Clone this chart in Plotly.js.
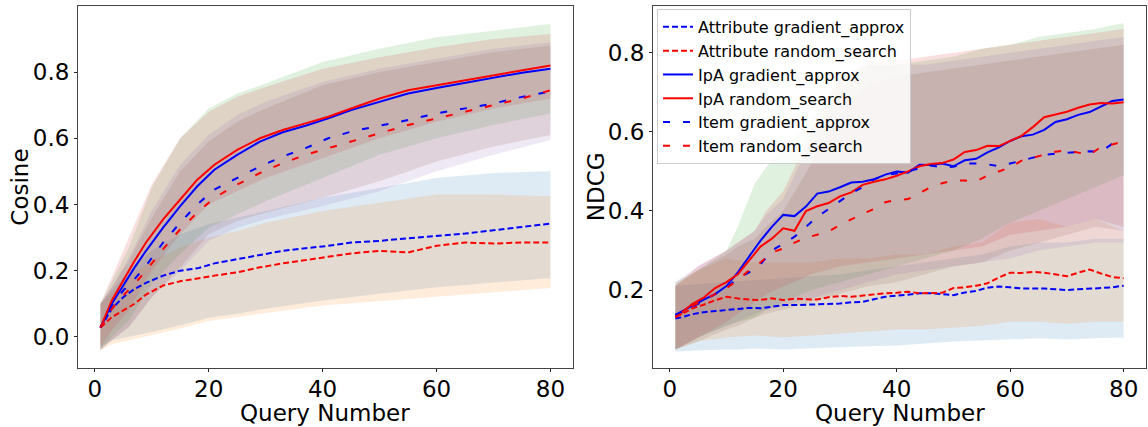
<!DOCTYPE html>
<html><head><meta charset="utf-8">
<script src="https://cdn.plot.ly/plotly-3.0.1.min.js"></script>
<style>html,body{margin:0;padding:0;background:#fff}</style>
</head><body>
<div id="chart" style="width:1148px;height:427px"></div>
<script>
// ---------- series ----------
const seriesNames = ["Attribute gradient_approx","Attribute random_search","IpA gradient_approx","IpA random_search","Item gradient_approx","Item random_search"];
const xTitle = "Query Number";
const yTitles = ["Cosine", "NDCG"];

// ---------- Cosine (left) ----------
const cosX = [1,3,5,7,9,12,15,18,21,25,29,33,37,41,45,50,55,60,65,70,75,80];
const cosAttrGrad = [0.028,0.085,0.12,0.145,0.163,0.185,0.2,0.207,0.222,0.235,0.248,0.26,0.268,0.275,0.285,0.29,0.298,0.305,0.312,0.322,0.333,0.342];
const cosAttrRand = [0.028,0.06,0.08,0.1,0.128,0.155,0.168,0.177,0.185,0.195,0.21,0.222,0.232,0.242,0.252,0.26,0.255,0.275,0.285,0.282,0.285,0.285];
const cosIpaGrad  = [0.028,0.1,0.155,0.21,0.26,0.33,0.395,0.455,0.505,0.55,0.59,0.618,0.638,0.66,0.685,0.71,0.735,0.752,0.768,0.783,0.798,0.81];
const cosIpaRand  = [0.028,0.11,0.17,0.23,0.285,0.355,0.415,0.475,0.52,0.565,0.6,0.625,0.645,0.665,0.69,0.72,0.745,0.76,0.775,0.79,0.805,0.82];
const cosItemGrad = [0.028,0.095,0.14,0.175,0.215,0.285,0.345,0.4,0.445,0.48,0.515,0.545,0.57,0.6,0.62,0.638,0.655,0.675,0.69,0.705,0.725,0.741];
const cosItemRand = [0.028,0.085,0.125,0.16,0.2,0.265,0.325,0.375,0.42,0.46,0.495,0.525,0.55,0.57,0.59,0.615,0.64,0.66,0.68,0.7,0.72,0.745];

const cosBandX = [1,3,6,10,15,20,25,30,40,50,60,70,80];
const cosAttrGradLo = [-0.03,-0.01,0.0,0.015,0.035,0.058,0.07,0.085,0.11,0.13,0.15,0.165,0.178];
const cosAttrGradHi = [0.1,0.14,0.2,0.26,0.31,0.34,0.36,0.38,0.42,0.45,0.48,0.495,0.5];
const cosAttrRandLo = [-0.04,-0.022,-0.01,0.005,0.025,0.048,0.06,0.072,0.095,0.11,0.122,0.135,0.148];
const cosAttrRandHi = [0.1,0.13,0.18,0.23,0.27,0.3,0.32,0.345,0.38,0.405,0.43,0.43,0.425];
const cosIpaGradLo  = [-0.04,0.0,0.05,0.16,0.25,0.33,0.37,0.41,0.48,0.55,0.6,0.64,0.675];
const cosIpaGradHi  = [0.1,0.17,0.27,0.45,0.6,0.69,0.735,0.765,0.83,0.87,0.905,0.925,0.945];
const cosIpaRandLo  = [-0.03,0.02,0.08,0.2,0.31,0.4,0.44,0.48,0.54,0.6,0.65,0.69,0.72];
const cosIpaRandHi  = [0.1,0.18,0.3,0.46,0.6,0.68,0.725,0.755,0.81,0.845,0.875,0.9,0.915];
const cosItemGradLo = [-0.04,-0.01,0.03,0.12,0.2,0.29,0.33,0.355,0.395,0.44,0.5,0.55,0.595];
const cosItemGradHi = [0.1,0.15,0.24,0.38,0.52,0.61,0.67,0.71,0.77,0.81,0.84,0.87,0.89];
const cosItemRandLo = [-0.04,-0.01,0.03,0.12,0.21,0.31,0.35,0.375,0.42,0.47,0.53,0.575,0.61];
const cosItemRandHi = [0.1,0.15,0.23,0.36,0.5,0.59,0.65,0.69,0.76,0.8,0.83,0.86,0.88];

// ---------- NDCG (right) ----------
const ndcgX = [1,2,4,6,8,10,12,14,16,18,20,22,24,26,28,30,32,34,36,38,40,42,44,46,48,50,52,54,56,58,60,62,64,66,68,70,72,74,76,78,80];
const ndcgAttrGrad = [0.128,0.131,0.139,0.144,0.147,0.149,0.152,0.155,0.154,0.158,0.162,0.162,0.163,0.165,0.166,0.166,0.169,0.17,0.177,0.183,0.186,0.188,0.192,0.192,0.19,0.187,0.194,0.198,0.206,0.209,0.207,0.204,0.204,0.204,0.202,0.2,0.202,0.203,0.205,0.207,0.211];
const ndcgAttrRand = [0.132,0.138,0.154,0.163,0.174,0.183,0.179,0.176,0.175,0.179,0.175,0.178,0.177,0.176,0.182,0.185,0.183,0.186,0.189,0.192,0.193,0.196,0.192,0.193,0.193,0.205,0.207,0.211,0.217,0.232,0.244,0.243,0.246,0.244,0.239,0.235,0.244,0.252,0.242,0.233,0.23];
const ndcgIpaGrad  = [0.137,0.145,0.162,0.176,0.19,0.21,0.245,0.285,0.325,0.36,0.39,0.387,0.411,0.444,0.449,0.46,0.472,0.474,0.48,0.492,0.5,0.497,0.517,0.516,0.52,0.513,0.528,0.532,0.548,0.561,0.577,0.589,0.593,0.605,0.625,0.632,0.643,0.65,0.665,0.678,0.682];
const ndcgIpaRand  = [0.132,0.142,0.165,0.181,0.205,0.22,0.24,0.274,0.31,0.33,0.356,0.35,0.4,0.412,0.42,0.437,0.447,0.466,0.474,0.48,0.489,0.5,0.513,0.519,0.521,0.53,0.549,0.554,0.565,0.564,0.577,0.59,0.612,0.637,0.644,0.651,0.661,0.669,0.673,0.672,0.675];
const ndcgItemGrad = [0.137,0.143,0.158,0.172,0.19,0.205,0.23,0.245,0.265,0.3,0.317,0.335,0.36,0.385,0.405,0.425,0.445,0.46,0.48,0.49,0.495,0.5,0.508,0.515,0.51,0.512,0.52,0.52,0.518,0.513,0.52,0.527,0.535,0.542,0.545,0.547,0.549,0.551,0.55,0.57,0.57];
const ndcgItemRand = [0.132,0.14,0.16,0.175,0.19,0.205,0.225,0.25,0.27,0.295,0.305,0.32,0.332,0.34,0.348,0.365,0.38,0.393,0.405,0.422,0.428,0.43,0.445,0.46,0.47,0.477,0.477,0.475,0.49,0.5,0.51,0.527,0.535,0.543,0.55,0.553,0.548,0.542,0.562,0.568,0.576];

const ndcgBandX = [1,5,10,12,15,17,20,25,30,35,40,45,50,55,60,65,70,75,80];
const ndcgAttrGradLo = [0.045,0.047,0.05,0.05,0.052,0.051,0.05,0.053,0.056,0.058,0.06,0.065,0.07,0.072,0.075,0.078,0.075,0.078,0.08];
const ndcgAttrGradHi = [0.21,0.215,0.22,0.222,0.225,0.227,0.23,0.235,0.24,0.25,0.26,0.27,0.28,0.29,0.31,0.32,0.32,0.33,0.33];
const ndcgAttrRandLo = [0.05,0.07,0.08,0.082,0.085,0.083,0.08,0.085,0.09,0.095,0.1,0.1,0.105,0.11,0.12,0.12,0.115,0.12,0.12];
const ndcgAttrRandHi = [0.215,0.25,0.28,0.275,0.27,0.27,0.27,0.27,0.28,0.28,0.29,0.29,0.31,0.32,0.37,0.38,0.36,0.38,0.35];
const ndcgIpaGradLo  = [0.05,0.08,0.11,0.12,0.13,0.15,0.17,0.2,0.22,0.24,0.26,0.28,0.3,0.33,0.37,0.4,0.43,0.46,0.49];
const ndcgIpaGradHi  = [0.22,0.25,0.3,0.36,0.47,0.51,0.56,0.63,0.74,0.77,0.77,0.78,0.79,0.81,0.82,0.84,0.85,0.86,0.875];
const ndcgIpaRandLo  = [0.05,0.08,0.12,0.14,0.17,0.19,0.21,0.24,0.26,0.27,0.28,0.29,0.3,0.31,0.34,0.35,0.36,0.38,0.36];
const ndcgIpaRandHi  = [0.21,0.26,0.3,0.32,0.35,0.4,0.45,0.6,0.73,0.775,0.78,0.79,0.8,0.81,0.82,0.83,0.84,0.85,0.86];
const ndcgItemGradLo = [0.05,0.08,0.11,0.12,0.14,0.15,0.16,0.18,0.2,0.22,0.24,0.25,0.26,0.27,0.28,0.3,0.31,0.32,0.32];
const ndcgItemGradHi = [0.22,0.26,0.3,0.32,0.35,0.39,0.43,0.58,0.7,0.77,0.77,0.77,0.78,0.79,0.8,0.81,0.82,0.83,0.84];
const ndcgItemRandLo = [0.05,0.07,0.1,0.11,0.13,0.14,0.15,0.17,0.19,0.21,0.22,0.24,0.26,0.27,0.3,0.32,0.34,0.36,0.35];
const ndcgItemRandHi = [0.21,0.25,0.29,0.31,0.33,0.36,0.4,0.52,0.64,0.72,0.74,0.75,0.76,0.77,0.78,0.79,0.8,0.81,0.82];

// ---------- style ----------
const bandColors = ["rgba(31,119,180,0.15)","rgba(255,127,14,0.15)","rgba(44,160,44,0.15)","rgba(214,39,40,0.15)","rgba(148,103,189,0.15)","rgba(140,86,75,0.15)"];
const lineColors = ["blue","red","blue","red","blue","red"];
const lineDash = ["6px,3px","6px,3px","solid","solid","7px,13px","7px,13px"];

const panels = [
  {xa:"x", ya:"y", x:cosX, means:[cosAttrGrad,cosAttrRand,cosIpaGrad,cosIpaRand,cosItemGrad,cosItemRand],
   bx:cosBandX, lo:[cosAttrGradLo,cosAttrRandLo,cosIpaGradLo,cosIpaRandLo,cosItemGradLo,cosItemRandLo],
   hi:[cosAttrGradHi,cosAttrRandHi,cosIpaGradHi,cosIpaRandHi,cosItemGradHi,cosItemRandHi], legend:false},
  {xa:"x2", ya:"y2", x:ndcgX, means:[ndcgAttrGrad,ndcgAttrRand,ndcgIpaGrad,ndcgIpaRand,ndcgItemGrad,ndcgItemRand],
   bx:ndcgBandX, lo:[ndcgAttrGradLo,ndcgAttrRandLo,ndcgIpaGradLo,ndcgIpaRandLo,ndcgItemGradLo,ndcgItemRandLo],
   hi:[ndcgAttrGradHi,ndcgAttrRandHi,ndcgIpaGradHi,ndcgIpaRandHi,ndcgItemGradHi,ndcgItemRandHi], legend:true}
];

const traces = [];
panels.forEach(p => {
  for (let i = 0; i < 6; i++) {
    traces.push({
      x: p.bx.concat(p.bx.slice().reverse()),
      y: p.hi[i].concat(p.lo[i].slice().reverse()),
      xaxis: p.xa, yaxis: p.ya, type: "scatter", mode: "lines",
      fill: "toself", fillcolor: bandColors[i], line: {width: 0, color: bandColors[i]},
      showlegend: false, hoverinfo: "skip", legendgroup: "g" + i
    });
  }
});
panels.forEach(p => {
  for (let i = 0; i < 6; i++) {
    traces.push({
      x: p.x, y: p.means[i], xaxis: p.xa, yaxis: p.ya, type: "scatter", mode: "lines",
      name: seriesNames[i], line: {color: lineColors[i], width: 2, dash: lineDash[i]},
      showlegend: p.legend, legendgroup: "g" + i
    });
  }
});

const font = {family: "DejaVu Sans, sans-serif", size: 23, color: "black"};
const titleFont = {family: "DejaVu Sans, sans-serif", size: 23, color: "black"};
const axisCommon = {showgrid: false, zeroline: false, showline: true, mirror: true, linecolor: "#444", linewidth: 1,
  ticks: "outside", ticklen: 3, tickcolor: "#222", tickfont: font, automargin: false};
const xExtra = {ticklabelstandoff: -3};

const xDomL = [0.0679, 0.4991], xDomR = [0.5688, 0.9983], yDom = [0.1382, 0.9848];
const annotations = [
  {text: xTitle, xref: "paper", yref: "paper", x: (xDomL[0]+xDomL[1])/2, y: 0.032, xanchor: "center", yanchor: "middle", showarrow: false, font: titleFont},
  {text: xTitle, xref: "paper", yref: "paper", x: (xDomR[0]+xDomR[1])/2, y: 0.032, xanchor: "center", yanchor: "middle", showarrow: false, font: titleFont},
  {text: yTitles[0], xref: "paper", yref: "paper", x: 0.0178, y: (yDom[0]+yDom[1])/2, xanchor: "center", yanchor: "middle", textangle: -90, showarrow: false, font: titleFont},
  {text: yTitles[1], xref: "paper", yref: "paper", x: 0.5192, y: (yDom[0]+yDom[1])/2, xanchor: "center", yanchor: "middle", textangle: -90, showarrow: false, font: titleFont}
];

const layout = {
  width: 1148, height: 427, margin: {l:0, r:0, t:0, b:0}, paper_bgcolor: "white", plot_bgcolor: "white",
  font: font, showlegend: true, annotations: annotations,
  xaxis: Object.assign({}, axisCommon, xExtra, {domain: xDomL, range: [-2.95, 83.95], tickvals: [0,20,40,60,80], anchor: "y"}),
  yaxis: Object.assign({}, axisCommon, {domain: yDom, range: [-0.094, 0.998], tickvals: [0,0.2,0.4,0.6,0.8], tickformat: ".1f", anchor: "x"}),
  xaxis2: Object.assign({}, axisCommon, xExtra, {domain: xDomR, range: [-2.95, 83.95], tickvals: [0,20,40,60,80], anchor: "y2"}),
  yaxis2: Object.assign({}, axisCommon, {domain: yDom, range: [0.003, 0.917], tickvals: [0.2,0.4,0.6,0.8], tickformat: ".1f", anchor: "x2"}),
  legend: {x: 0.5723, y: 0.979, xanchor: "left", yanchor: "top", bgcolor: "rgba(255,255,255,0.85)",
    bordercolor: "#cccccc", borderwidth: 1, font: {family: "DejaVu Sans, sans-serif", size: 16, color: "black"},
    tracegroupgap: 3, traceorder: "normal"}
};

Plotly.newPlot("chart", traces, layout, {displayModeBar: false, staticPlot: true});
</script>
</body></html>
